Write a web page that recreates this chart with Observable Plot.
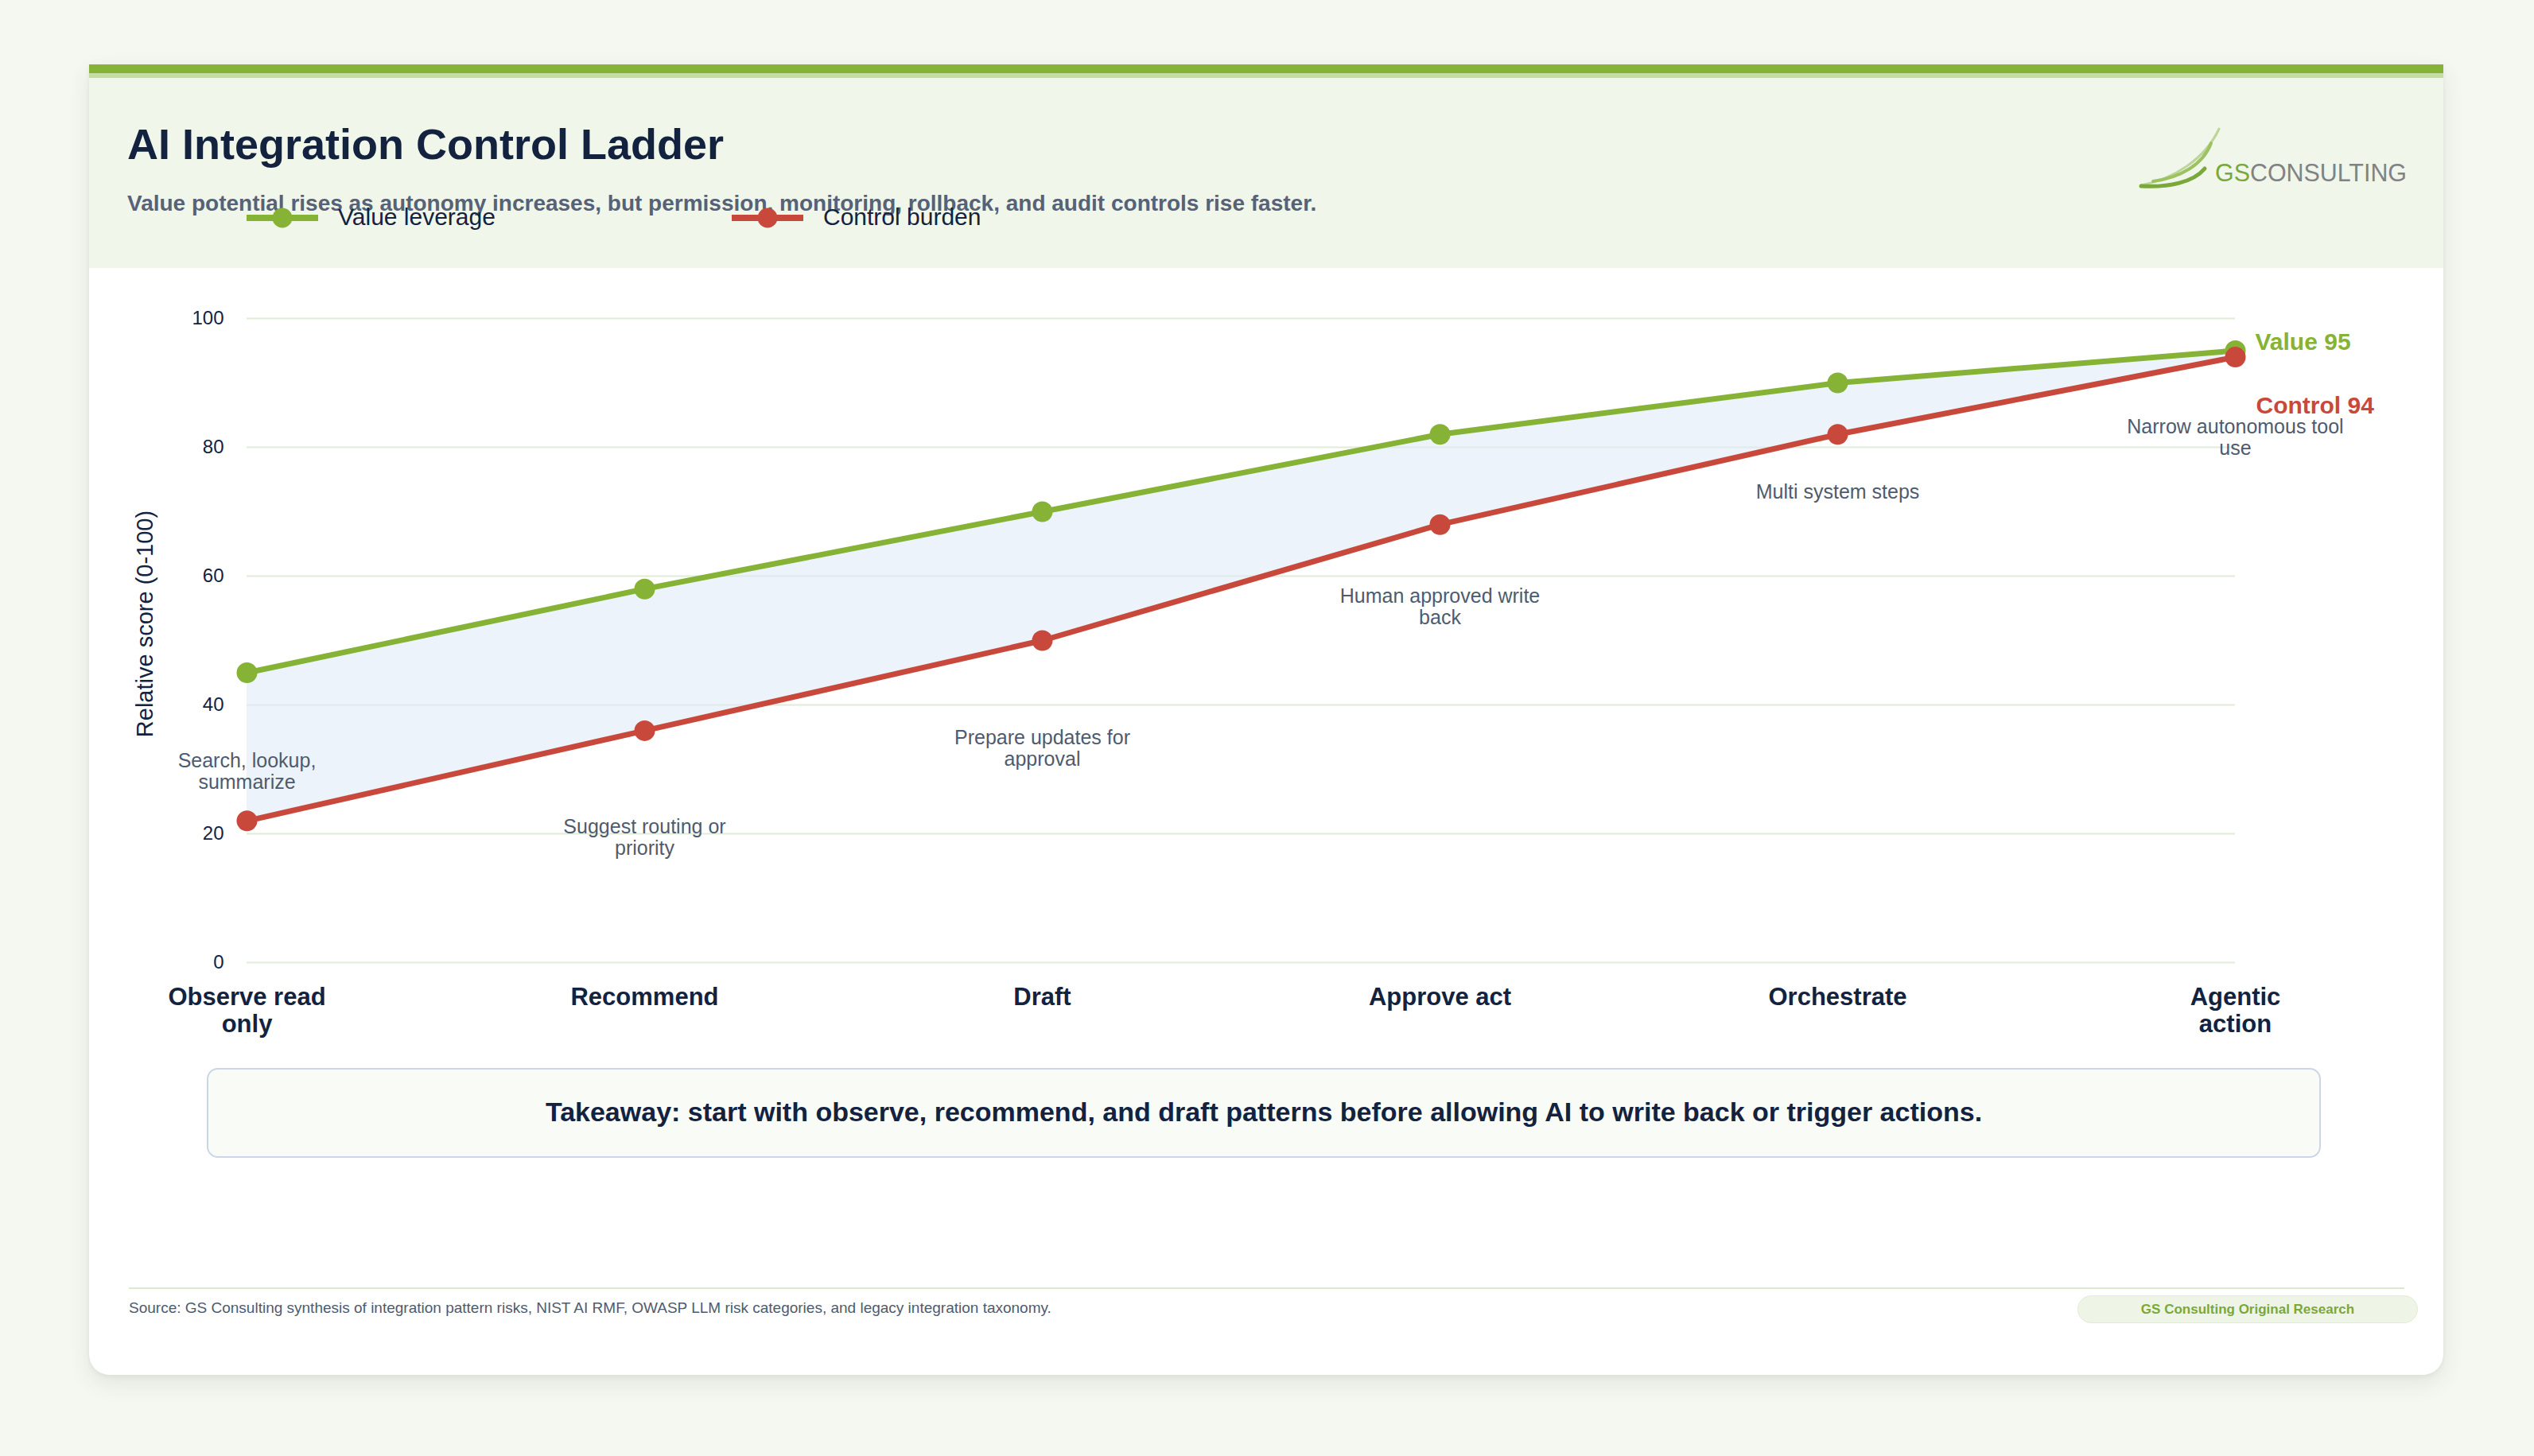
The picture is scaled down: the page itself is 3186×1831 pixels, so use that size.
<!DOCTYPE html>
<html>
<head>
<meta charset="utf-8">
<script src="https://cdn.jsdelivr.net/npm/d3@7"></script>
<script src="https://cdn.jsdelivr.net/npm/@observablehq/plot@0.6"></script>
<style>
  html, body { margin: 0; padding: 0; }
  body {
    width: 3186px; height: 1831px; position: relative; overflow: hidden;
    background: #f5f8f1;
    font-family: "Liberation Sans", Arial, Helvetica, sans-serif;
  }
  .card {
    position: absolute; left: 112px; top: 81px; width: 2960px; height: 1648px;
    background: #ffffff; border-radius: 0 0 26px 26px;
    box-shadow: 0 10px 28px rgba(40, 55, 30, 0.10), 0 2px 6px rgba(40, 55, 30, 0.05);
    overflow: hidden;
  }
  .bar { position: absolute; left: 0; top: 0; width: 100%; height: 11px; background: #86b236; }
  .bar2 { position: absolute; left: 0; top: 11px; width: 100%; height: 6px; background: #c6dca2; }
  .header { position: absolute; left: 0; top: 17px; width: 100%; height: 239px; background: #f1f6eb; }
  .title {
    position: absolute; left: 48px; top: 73px; margin: 0;
    font-size: 54px; line-height: 1; font-weight: 700; color: #13233f; white-space: nowrap;
  }
  .subtitle {
    position: absolute; left: 48px; top: 161px; margin: 0;
    font-size: 28px; line-height: 1; font-weight: 700; color: #566275; white-space: nowrap;
  }
  .legend-item { position: absolute; top: 177px; height: 32px; }
  .legend-item svg { position: absolute; left: 0; top: 3px; }
  .legend-item span {
    position: absolute; top: 0; font-size: 30px; line-height: 1; color: #13233f; white-space: nowrap;
  }
  .logo { position: absolute; left: 2560px; top: 60px; }
  .chart { position: absolute; left: 0; top: 256px; }
  .takeaway {
    position: absolute; left: 148px; top: 1262px; width: 2654px; height: 109px;
    background: #f9fbf6; border: 2px solid #cbd7e6; border-radius: 14px;
  }
  .takeaway p {
    position: absolute; left: 0; right: 0; top: 36px; margin: 0; text-align: center;
    font-size: 34px; line-height: 1; font-weight: 700; color: #13233f; white-space: nowrap;
  }
  .divider { position: absolute; left: 50px; top: 1538px; width: 2861px; height: 2px; background: #dde8d0; }
  .source {
    position: absolute; left: 50px; top: 1554px; margin: 0;
    font-size: 19px; line-height: 1; color: #4e5b6e; white-space: nowrap;
  }
  .badge {
    position: absolute; left: 2500px; top: 1548px; width: 426px; height: 33px;
    background: #eef5e6; border: 1px solid #e1ecd4; border-radius: 18px;
    display: flex; align-items: center; justify-content: center;
    font-size: 17px; font-weight: 700; color: #7aa83a; white-space: nowrap;
  }
</style>
</head>
<body>
<div class="card">
  <div class="bar"></div>
  <div class="bar2"></div>
  <div class="header"></div>
  <h1 class="title">AI Integration Control Ladder</h1>
  <p class="subtitle">Value potential rises as autonomy increases, but permission, monitoring, rollback, and audit controls rise faster.</p>
  <div id="legend"></div>
  <svg class="logo" width="400" height="120" viewBox="0 0 400 120">
    <path d="M20,92 C60,84 100,60 118,21" fill="none" stroke="#bcd598" stroke-width="3" stroke-linecap="round"/>
    <path d="M35,87 C70,82 98,66 108,39" fill="none" stroke="#9dc262" stroke-width="4" stroke-linecap="round"/>
    <path d="M20,93 C55,95 86,88 100,71" fill="none" stroke="#7aa83a" stroke-width="5" stroke-linecap="round"/>
    <text x="113" y="87" font-size="32" font-family="'Liberation Sans', Arial, sans-serif" textLength="241" lengthAdjust="spacingAndGlyphs"><tspan fill="#7aa83a">GS</tspan><tspan fill="#808285">CONSULTING</tspan></text>
  </svg>
  <div class="chart" id="chart"></div>
  <div class="takeaway"><p>Takeaway: start with observe, recommend, and draft patterns before allowing AI to write back or trigger actions.</p></div>
  <div class="divider"></div>
  <p class="source">Source: GS Consulting synthesis of integration pattern risks, NIST AI RMF, OWASP LLM risk categories, and legacy integration taxonomy.</p>
  <div class="badge">GS Consulting Original Research</div>
</div>
<script>
// Autonomy stages along the ladder
const stages = ["Observe read only", "Recommend", "Draft", "Approve act", "Orchestrate", "Agentic action"];
// Relative scores (0-100) per stage
const valueLeverage = [45, 58, 70, 82, 90, 95];
const controlBurden = [22, 36, 50, 68, 82, 94];
// Example pattern at each stage
const stageNotes = [
  "Search, lookup, summarize",
  "Suggest routing or priority",
  "Prepare updates for approval",
  "Human approved write back",
  "Multi system steps",
  "Narrow autonomous tool use"
];
const yTicks = [0, 20, 40, 60, 80, 100];
const seriesNames = ["Value leverage", "Control burden"];

const GREEN = "#86b236";
const RED = "#c8493b";
const NAVY = "#13233f";
const SLATE = "#4e5b6e";

// Greedy word wrap by character count
function wrap(text, maxChars) {
  const lines = [];
  let cur = "";
  for (const w of text.split(" ")) {
    if (cur && (cur + " " + w).length > maxChars) { lines.push(cur); cur = w; }
    else cur = cur ? cur + " " + w : w;
  }
  if (cur) lines.push(cur);
  return lines.join("\n");
}

const rows = stages.map((stage, i) => ({
  stage,
  value: valueLeverage[i],
  control: controlBurden[i],
  note: stageNotes[i]
}));
const last = rows[rows.length - 1];

// Pixel offsets of each pattern note relative to its control point
const noteDy = [-86, 110, 111, 79, 62, 77];
const noteMarks = rows.map((r, i) => Plot.text([r], {
  x: "stage", y: "control",
  text: d => wrap(d.note, 22),
  dy: noteDy[i],
  lineAnchor: "top", textAnchor: "middle",
  lineHeight: 1.08, fontSize: 25, fill: SLATE
}));

const chart = Plot.plot({
  width: 2960,
  height: 1000,
  marginLeft: 198,
  marginRight: 262,
  marginTop: 63,
  marginBottom: 127,
  style: {
    fontFamily: "'Liberation Sans', Arial, Helvetica, sans-serif",
    background: "transparent",
    overflow: "visible"
  },
  x: { type: "point", domain: stages, padding: 0, label: null },
  y: { domain: [0, 100], label: null },
  marks: [
    Plot.gridY(yTicks, { stroke: "#e2ebd9", strokeOpacity: 1, strokeWidth: 2 }),
    Plot.areaY(rows, { x: "stage", y1: "control", y2: "value", fill: "#dce9f8", fillOpacity: 0.55 }),
    Plot.line(rows, { x: "stage", y: "value", stroke: GREEN, strokeWidth: 7 }),
    Plot.line(rows, { x: "stage", y: "control", stroke: RED, strokeWidth: 7 }),
    Plot.dot(rows, { x: "stage", y: "value", r: 13, fill: GREEN }),
    Plot.dot(rows, { x: "stage", y: "control", r: 13, fill: RED }),
    ...noteMarks,
    Plot.text([last], {
      x: "stage", y: "value", text: d => `Value ${d.value}`,
      dx: 25, dy: -11, textAnchor: "start", fontSize: 30, fontWeight: "bold", fill: GREEN
    }),
    Plot.text([last], {
      x: "stage", y: "control", text: d => `Control ${d.control}`,
      dx: 26, dy: 61, textAnchor: "start", fontSize: 30, fontWeight: "bold", fill: RED
    }),
    Plot.axisY(yTicks, { tickSize: 0, tickPadding: 29, fontSize: 24, color: NAVY, label: null }),
    Plot.axisX({
      tickSize: 0, tickPadding: 30, fontSize: 31, fontWeight: "bold", color: NAVY,
      tickFormat: d => wrap(d, 12), lineHeight: 1.08, label: null
    }),
    Plot.text(["Relative score (0-100)"], {
      text: d => d, frameAnchor: "left", rotate: -90,
      dx: -128, dy: -21, textAnchor: "middle", lineAnchor: "middle",
      fontSize: 29, fill: NAVY
    })
  ]
});
document.getElementById("chart").appendChild(chart);

// Legend: line-and-dot swatches
const legend = document.getElementById("legend");
const legendColors = [GREEN, RED];
const legendLeft = [198, 808];
seriesNames.forEach((name, i) => {
  const item = document.createElement("div");
  item.className = "legend-item";
  item.style.left = legendLeft[i] + "px";
  item.innerHTML =
    `<svg width="90" height="26" viewBox="0 0 90 26">
       <line x1="0" y1="13" x2="90" y2="13" stroke="${legendColors[i]}" stroke-width="8"/>
       <circle cx="45" cy="13" r="12.5" fill="${legendColors[i]}"/>
     </svg><span style="left:115px">${name}</span>`;
  legend.appendChild(item);
});
</script>
</body>
</html>
